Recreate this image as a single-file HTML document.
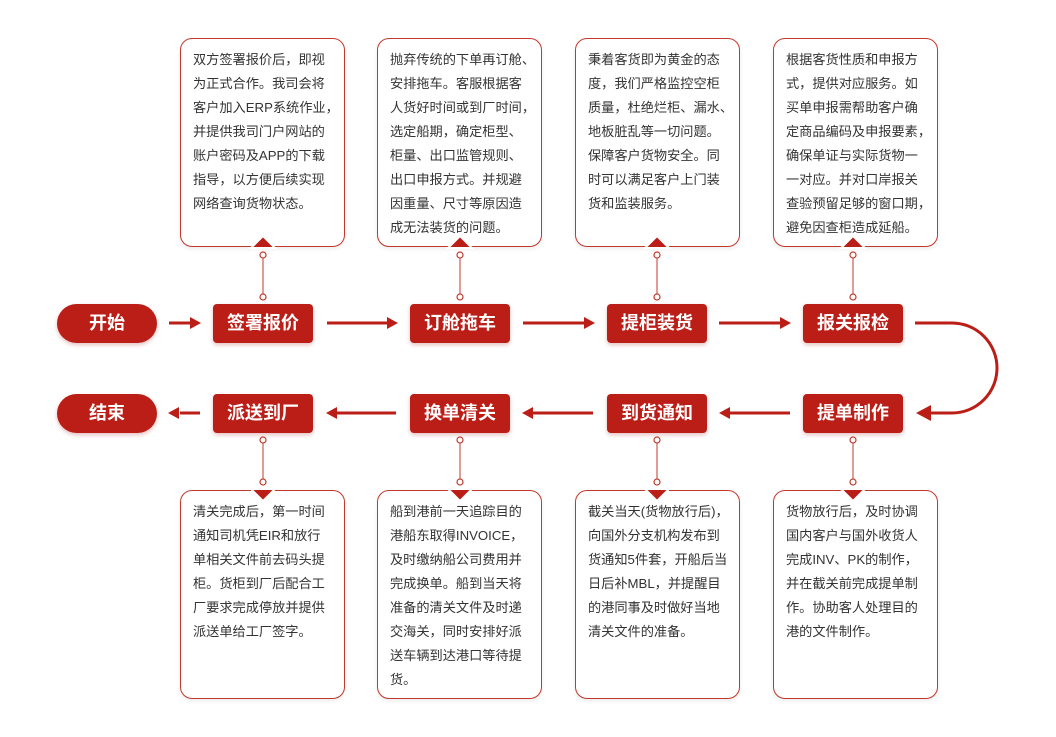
<!DOCTYPE html>
<html><head><meta charset="utf-8"><style>
body{margin:0;width:1056px;height:737px;background:#fff;position:relative;overflow:hidden;font-family:"Liberation Sans","Noto Sans CJK SC",sans-serif}
.box{position:absolute;width:165px;height:209px;border:1px solid #c0392b;border-radius:12px;box-sizing:border-box;background:#fff;box-shadow:0 2px 4px rgba(0,0,0,.08)}
.box p{margin:0;position:absolute;left:12px;top:9px;font-size:13.2px;line-height:24px;color:#333;white-space:nowrap}
.node{position:absolute;width:100px;height:39px;background:#bb1d17;color:#fff;border-radius:4px;font-size:18px;font-weight:bold;text-align:center;line-height:39px;box-shadow:0 2px 4px rgba(150,0,0,.25)}
.pill{border-radius:20px}
</style></head><body>
<div class="box" style="left:180px;top:38px"><p>双方签署报价后，即视<br>为正式合作。我司会将<br>客户加入ERP系统作业，<br>并提供我司门户网站的<br>账户密码及APP的下载<br>指导，以方便后续实现<br>网络查询货物状态。</p></div>
<div class="box" style="left:377px;top:38px"><p>抛弃传统的下单再订舱、<br>安排拖车。客服根据客<br>人货好时间或到厂时间，<br>选定船期，确定柜型、<br>柜量、出口监管规则、<br>出口申报方式。并规避<br>因重量、尺寸等原因造<br>成无法装货的问题。</p></div>
<div class="box" style="left:575px;top:38px"><p>秉着客货即为黄金的态<br>度，我们严格监控空柜<br>质量，杜绝烂柜、漏水、<br>地板脏乱等一切问题。<br>保障客户货物安全。同<br>时可以满足客户上门装<br>货和监装服务。</p></div>
<div class="box" style="left:773px;top:38px"><p>根据客货性质和申报方<br>式，提供对应服务。如<br>买单申报需帮助客户确<br>定商品编码及申报要素，<br>确保单证与实际货物一<br>一对应。并对口岸报关<br>查验预留足够的窗口期，<br>避免因查柜造成延船。</p></div>
<div class="box" style="left:180px;top:490px"><p>清关完成后，第一时间<br>通知司机凭EIR和放行<br>单相关文件前去码头提<br>柜。货柜到厂后配合工<br>厂要求完成停放并提供<br>派送单给工厂签字。</p></div>
<div class="box" style="left:377px;top:490px"><p>船到港前一天追踪目的<br>港船东取得INVOICE，<br>及时缴纳船公司费用并<br>完成换单。船到当天将<br>准备的清关文件及时递<br>交海关，同时安排好派<br>送车辆到达港口等待提<br>货。</p></div>
<div class="box" style="left:575px;top:490px"><p>截关当天(货物放行后)，<br>向国外分支机构发布到<br>货通知5件套，开船后当<br>日后补MBL，并提醒目<br>的港同事及时做好当地<br>清关文件的准备。</p></div>
<div class="box" style="left:773px;top:490px"><p>货物放行后，及时协调<br>国内客户与国外收货人<br>完成INV、PK的制作，<br>并在截关前完成提单制<br>作。协助客人处理目的<br>港的文件制作。</p></div>

<div class="node pill" style="left:57px;top:304px">开始</div>
<div class="node" style="left:213px;top:304px">签署报价</div>
<div class="node" style="left:410px;top:304px">订舱拖车</div>
<div class="node" style="left:607px;top:304px">提柜装货</div>
<div class="node" style="left:803px;top:304px">报关报检</div>
<div class="node pill" style="left:57px;top:394px">结束</div>
<div class="node" style="left:213px;top:394px">派送到厂</div>
<div class="node" style="left:410px;top:394px">换单清关</div>
<div class="node" style="left:607px;top:394px">到货通知</div>
<div class="node" style="left:803px;top:394px">提单制作</div>

<svg width="1056" height="737" style="position:absolute;left:0;top:0" fill="none">
<g stroke="#bb1d17" stroke-width="3">
<line x1="169" y1="323" x2="192" y2="323"/>
<line x1="327" y1="323" x2="388" y2="323"/>
<line x1="523" y1="323" x2="585" y2="323"/>
<line x1="719" y1="323" x2="781" y2="323"/>
<line x1="180" y1="413" x2="200" y2="413"/>
<line x1="336" y1="413" x2="396" y2="413"/>
<line x1="533" y1="413" x2="593" y2="413"/>
<line x1="729" y1="413" x2="790" y2="413"/>
<path d="M915 323 H952 A45 45 0 0 1 952 413 H930"/>
</g>
<g fill="#bb1d17">
<path d="M201 323 l-11 -6 v12z"/>
<path d="M398 323 l-11 -6 v12z"/>
<path d="M595 323 l-11 -6 v12z"/>
<path d="M791 323 l-11 -6 v12z"/>
<path d="M168 413 l11 -6 v12z"/>
<path d="M326 413 l11 -6 v12z"/>
<path d="M522 413 l11 -6 v12z"/>
<path d="M719 413 l11 -6 v12z"/>
<path d="M916 413 l15 -8 v16z"/>
</g>
<g stroke="#c0392b" stroke-width="1">
<line x1="263" y1="258" x2="263" y2="294"/><line x1="460" y1="258" x2="460" y2="294"/>
<line x1="657" y1="258" x2="657" y2="294"/><line x1="853" y1="258" x2="853" y2="294"/>
<line x1="263" y1="443" x2="263" y2="479"/><line x1="460" y1="443" x2="460" y2="479"/>
<line x1="657" y1="443" x2="657" y2="479"/><line x1="853" y1="443" x2="853" y2="479"/>
</g>
<g stroke="#c0392b" stroke-width="1.2" fill="#fff">
<circle cx="263" cy="255" r="3"/><circle cx="263" cy="297" r="3"/>
<circle cx="460" cy="255" r="3"/><circle cx="460" cy="297" r="3"/>
<circle cx="657" cy="255" r="3"/><circle cx="657" cy="297" r="3"/>
<circle cx="853" cy="255" r="3"/><circle cx="853" cy="297" r="3"/>
<circle cx="263" cy="440" r="3"/><circle cx="263" cy="482" r="3"/>
<circle cx="460" cy="440" r="3"/><circle cx="460" cy="482" r="3"/>
<circle cx="657" cy="440" r="3"/><circle cx="657" cy="482" r="3"/>
<circle cx="853" cy="440" r="3"/><circle cx="853" cy="482" r="3"/>
</g>
<g fill="#bb1d17" stroke="#fff" stroke-width="2">
<path d="M251 248 L263 236 L275 248Z"/><path d="M448 248 L460 236 L472 248Z"/>
<path d="M645 248 L657 236 L669 248Z"/><path d="M841 248 L853 236 L865 248Z"/>
<path d="M251 489 L263 501 L275 489Z"/><path d="M448 489 L460 501 L472 489Z"/>
<path d="M645 489 L657 501 L669 489Z"/><path d="M841 489 L853 501 L865 489Z"/>
</g>
</svg>
</body></html>
